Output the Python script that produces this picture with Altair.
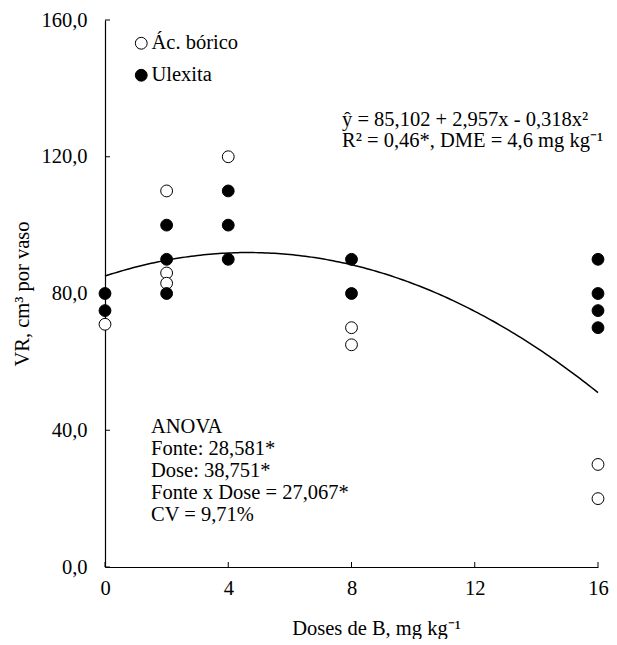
import altair as alt
import pandas as pd

# ---- data ----
doses_acido = [0, 2, 2, 2, 4, 8, 8, 16, 16]
vr_acido = [71, 110, 86, 83, 120, 70, 65, 30, 20]
doses_ulexita = [0, 0, 2, 2, 2, 4, 4, 4, 8, 8, 16, 16, 16, 16]
vr_ulexita = [80, 75, 100, 90, 80, 110, 100, 90, 90, 80, 90, 80, 75, 70]
fontes = ["Ác. bórico", "Ulexita"]
coef = [85.102, 2.957, -0.318]  # ŷ = b0 + b1 x + b2 x²
x_ticks = [0, 4, 8, 12, 16]
y_ticks = [0, 40, 80, 120, 160]
eq_text = "ŷ = 85,102  + 2,957x - 0,318x²\nR² = 0,46*, DME = 4,6 mg kg⁻¹"
anova_text = "ANOVA\nFonte: 28,581*\nDose: 38,751*\nFonte x Dose = 27,067*\nCV = 9,71%"

FONT = "Liberation Serif"
FS = 20.5
W, H = 493, 547

df = pd.DataFrame({
    "dose": doses_acido + doses_ulexita,
    "vr": vr_acido + vr_ulexita,
    "fonte": [fontes[0]] * len(doses_acido) + [fontes[1]] * len(doses_ulexita),
})

xscale = alt.Scale(domain=[0, 16], nice=False, zero=False)
yscale = alt.Scale(domain=[0, 160], nice=False)

xaxis = alt.Axis(values=x_ticks, title="Doses de B, mg kg⁻¹", ticks=False,
                 labelFlush=False, labelPadding=11, titlePadding=20, titleX=271)
yaxis = alt.Axis(values=y_ticks, title="VR, cm³ por vaso", ticks=False,
                 labelFlush=False, labelPadding=18, titlePadding=8,
                 labelExpr="replace(format(datum.value, '.1f'), '.', ',')")

points = alt.Chart(df).mark_point(filled=True, stroke="black", strokeWidth=1,
                                  size=140, opacity=1).encode(
    x=alt.X("dose:Q", scale=xscale, axis=xaxis),
    y=alt.Y("vr:Q", scale=yscale, axis=yaxis),
    fill=alt.Fill("fonte:N",
                  scale=alt.Scale(domain=fontes, range=["white", "black"]),
                  legend=alt.Legend(title=None, orient="none", legendX=26, legendY=13,
                                    symbolType="circle", symbolSize=140,
                                    symbolStrokeColor="black", symbolStrokeWidth=1,
                                    labelFont=FONT, labelFontSize=FS, labelColor="black",
                                    labelOffset=0, rowPadding=11)),
)

curve = alt.Chart(alt.sequence(0, 16.05, 0.1, as_="x")).transform_calculate(
    y=f"{coef[0]} + {coef[1]}*datum.x + {coef[2]}*datum.x*datum.x"
).mark_line(color="black", strokeWidth=1.5).encode(
    x=alt.X("x:Q", scale=xscale),
    y=alt.Y("y:Q", scale=yscale),
)

xt = alt.Chart(pd.DataFrame({"t": x_ticks})).mark_rule(color="black").encode(
    x=alt.X("t:Q", scale=xscale), y=alt.value(H), y2=alt.value(H - 5))
yt = alt.Chart(pd.DataFrame({"t": y_ticks})).mark_rule(color="black").encode(
    y=alt.Y("t:Q", scale=yscale), x=alt.value(0), x2=alt.value(5))

eq = alt.Chart(pd.DataFrame({"a": [0]})).mark_text(
    font=FONT, fontSize=FS, color="black", align="left", baseline="alphabetic",
    lineBreak="\n", lineHeight=21).encode(
    x=alt.value(237), y=alt.value(106), text=alt.value(eq_text))

anova = alt.Chart(pd.DataFrame({"a": [0]})).mark_text(
    font=FONT, fontSize=FS, color="black", align="left", baseline="alphabetic",
    lineBreak="\n", lineHeight=22).encode(
    x=alt.value(46), y=alt.value(413), text=alt.value(anova_text))

chart = alt.layer(curve, points, xt, yt, eq, anova).properties(
    width=W, height=H, padding={"left": 4, "top": 2, "right": 0, "bottom": 0},
    autosize=alt.AutoSizeParams(type="pad"),
).configure_view(stroke=None).configure_axis(
    grid=False, domainColor="black", domainWidth=1.2,
    labelFont=FONT, labelFontSize=FS, labelColor="black",
    titleFont=FONT, titleFontSize=FS, titleFontWeight="normal", titleColor="black",
)

chart.save("out.html", embed_options={"renderer": "svg", "actions": False})
